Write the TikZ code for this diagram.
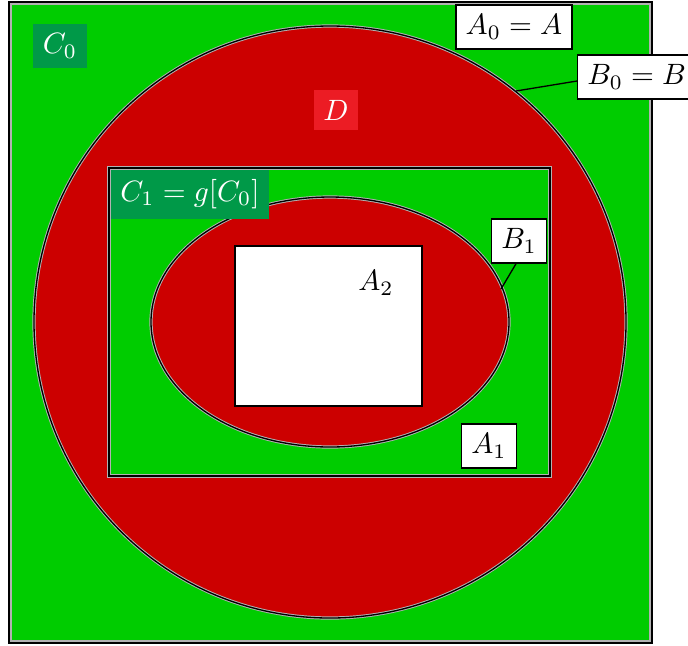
\documentclass[tikz,border=0pt]{standalone}
\usetikzlibrary{shapes.geometric}
\definecolor{bggreen}{RGB}{0,204,0}
\definecolor{dred}{RGB}{204,0,0}
\definecolor{lblgreen}{RGB}{0,153,72}
\definecolor{lblred}{RGB}{236,28,36}
\tikzset{
  edge/.style={draw=gray!60, line width=1.1pt},
  blackedge/.style={draw=black, line width=0.45pt},
  whitelbl/.style={fill=white, draw=black, line width=0.45pt},
  greenlbl/.style={fill=lblgreen, text=white},
  redlbl/.style={fill=lblred, text=white},
  leader/.style={draw=black, line width=0.45pt}
}
\begin{document}
\begin{tikzpicture}[x=0.34pt, y=-0.34pt]
\useasboundingbox (0,0) rectangle (688,645);
% outer square
\fill[bggreen] (10,3) rectangle (651,642);
\draw[edge] (10,3) rectangle (651,642);
\draw[blackedge, line width=0.7pt] (9,2) rectangle (652,643);
% big circle D
\fill[dred] (330,322) circle[radius=296];
\draw[edge] (330,322) circle[radius=296];
\draw[blackedge] (330,322) circle[radius=296];
% rectangle C1
\fill[bggreen] (109,168) rectangle (550,476);
\draw[edge] (109,168) rectangle (550,476);
\draw[blackedge] (109,168) rectangle (550,476);
% ellipse
\fill[dred] (330,322) ellipse[x radius=179, y radius=125];
\draw[edge] (330,322) ellipse[x radius=179, y radius=125];
\draw[blackedge] (330,322) ellipse[x radius=179, y radius=125];
% white rectangle A2
\draw[fill=white, draw=black, line width=0.7pt] (235,246) rectangle (422,406);
% connector end points
\coordinate (b0end) at (516,91);
\coordinate (b1end) at (501,289);
% labels
\node[greenlbl] (c0) at (60,46) {$C_0$};
\node[whitelbl] (a0) at (514,27) {$A_0=A$};
\node[whitelbl, anchor=west] (b0) at (577,77) {$B_0=B$};
\node[redlbl] (d) at (336,110) {$D$};
\node[greenlbl, anchor=north west] (c1) at (110,169) {$C_1=g[C_0]$};
\node[whitelbl] (b1) at (519,241) {$B_1$};
\node (a2) at (376,283) {$A_2$};
\node[whitelbl] (a1) at (489,446) {$A_1$};
% leaders
\draw[leader] (b0.west|-0,81) -- (b0end);
\draw[leader] (b1.south) ++(-3,0) -- (b1end);
\end{tikzpicture}
\end{document}
